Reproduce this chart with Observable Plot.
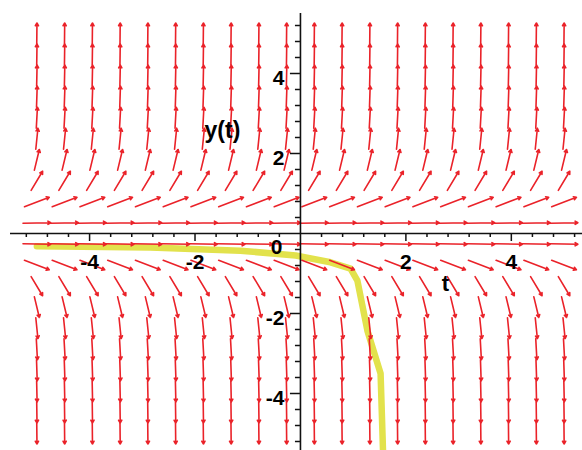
<!DOCTYPE html>
<html>
<head>
<meta charset="utf-8">
<script src="https://cdn.jsdelivr.net/npm/d3@7"></script>
<script src="https://cdn.jsdelivr.net/npm/@observablehq/plot@0.6"></script>
<style>
  body { margin: 0; background: #fff; }
  #chart svg { display: block; }
</style>
</head>
<body>
<div id="chart"></div>
<script>
// Direction field grid: 20 columns in t and 20 rows in y, from -5 to 5
const gridT = [-5, -4.474, -3.947, -3.421, -2.895, -2.368, -1.842, -1.316, -0.789, -0.263,
               0.263, 0.789, 1.316, 1.842, 2.368, 2.895, 3.421, 3.947, 4.474, 5];
const gridY = [-5, -4.474, -3.947, -3.421, -2.895, -2.368, -1.842, -1.316, -0.789, -0.263,
               0.263, 0.789, 1.316, 1.842, 2.368, 2.895, 3.421, 3.947, 4.474, 5];
// Slope dy/dt on each row (the field does not depend on t)
const rowSlope = [-125, -90, -61, -40, -24, -13, -5.5, -2.2, -0.5, -0.02,
                  0.02, 0.5, 2.2, 5.5, 13, 24, 40, 61, 90, 125];

// Solution curve y(t)
const solT = [-5.0, -2.85, -1.14, -0.09, 0.57, 0.95, 1.08, 1.27, 1.52, 1.57];
const solY = [-0.32, -0.35, -0.43, -0.55, -0.72, -0.88, -1.18, -2.43, -3.5, -5.6];

// Axis ticks and labels
const xMajor = [-4, -2, 2, 4];
const xMajorLabels = ["-4", "-2", "2", "4"];
const yMajor = [-4, -2, 2, 4];
const yMajorLabels = ["-4", "-2", "2", "4"];
const minorTicks = [-5.2, -4.8, -4.4, -3.6, -3.2, -2.8, -2.4, -1.6, -1.2, -0.8, -0.4,
                    0.4, 0.8, 1.2, 1.6, 2.4, 2.8, 3.2, 3.6, 4.4, 4.8, 5.2];
const originLabel = ["0"];
const tTitle = ["t"];
const yTitle = ["y(t)"];

// Build one centred arrow per grid cell, one cell long along the slope direction
const cell = gridT[1] - gridT[0];
const arrows = [];
gridY.forEach((y, i) => {
  const s = rowSlope[i];
  const n = Math.hypot(1, s);
  const hx = 0.5 * cell / n, hy = 0.5 * cell * s / n;
  gridT.forEach(t => arrows.push({x1: t - hx, y1: y - hy, x2: t + hx, y2: y + hy}));
});
const solution = solT.map((t, i) => ({t, y: solY[i]}));

const red = "#ea2229";
const font = "'Liberation Sans', Arial, sans-serif";

const chart = Plot.plot({
  width: 582,
  height: 450,
  marginLeft: 10,
  marginRight: 0,
  marginTop: 13,
  marginBottom: 0,
  x: {domain: [-5.5, 5.35], axis: null},
  y: {domain: [-5.425, 5.5], axis: null},
  style: {fontFamily: font, background: "#fff"},
  marks: [
    Plot.line(solution, {x: "t", y: "y", stroke: "#e2e24c", strokeWidth: 6.5, clip: true}),
    Plot.arrow(arrows, {x1: "x1", y1: "y1", x2: "x2", y2: "y2",
      stroke: red, strokeWidth: 1.6, headLength: 3, headAngle: 60}),
    // axes through the origin
    Plot.ruleY([0], {stroke: "#111", strokeWidth: 1.6}),
    Plot.ruleX([0], {stroke: "#111", strokeWidth: 1.6}),
    // tick marks hanging below the t axis and left of the y axis
    Plot.ruleX(minorTicks, {x: d => d, y1: 0, y2: -0.1, stroke: "#111", strokeWidth: 1.5}),
    Plot.ruleX(xMajor, {x: d => d, y1: 0, y2: -0.2, stroke: "#111", strokeWidth: 1.5}),
    Plot.ruleY(minorTicks, {y: d => d, x1: 0, x2: -0.095, stroke: "#111", strokeWidth: 1.5}),
    Plot.ruleY(yMajor, {y: d => d, x1: 0, x2: -0.19, stroke: "#111", strokeWidth: 1.5}),
    // tick labels
    Plot.text(xMajor, {x: d => d, y: 0, text: (d, i) => xMajorLabels[i], dy: 29,
      fontSize: 21, fontWeight: "bold", fill: "#000"}),
    Plot.text(yMajor, {x: 0, y: d => d, text: (d, i) => yMajorLabels[i], dx: -16, dy: 5,
      textAnchor: "end", fontSize: 21, fontWeight: "bold", fill: "#000"}),
    Plot.text(originLabel, {x: 0, y: 0, text: d => d, dx: -18, dy: 14,
      textAnchor: "end", fontSize: 21, fontWeight: "bold", fill: "#000"}),
    // axis titles
    Plot.text(tTitle, {x: 2.75, y: 0, text: d => d, dy: 50,
      fontSize: 22, fontWeight: "bold", fill: "#000"}),
    Plot.text(yTitle, {x: 0, y: 2.575, text: d => d, dx: -78,
      fontSize: 23, fontWeight: "bold", fill: "#000"})
  ]
});
document.getElementById("chart").appendChild(chart);
</script>
</body>
</html>
